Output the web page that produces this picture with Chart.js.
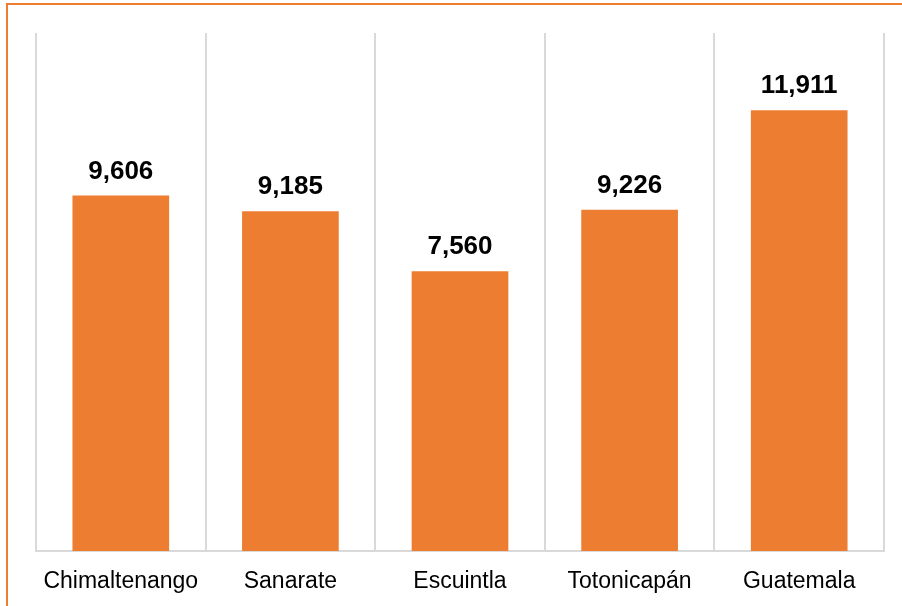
<!DOCTYPE html>
<html lang="es">
<head>
    <meta charset="UTF-8">
    <title>Bar chart</title>
    <script src="https://cdn.jsdelivr.net/npm/chart.js"></script>
    <style>
        html, body { margin: 0; padding: 0; background: #fff; }
        body { width: 902px; height: 606px; position: relative; overflow: hidden; }
        .frame {
            position: absolute; left: 6px; top: 3px; width: 1000px; height: 700px;
            border-left: 2px solid #ED7D31; border-top: 2px solid #ED7D31;
        }
        .wrap { position: absolute; left: 0; top: 0; width: 902px; height: 606px; }
    </style>
</head>
<body>
    <div class="frame"></div>
    <div class="wrap"><canvas id="chart"></canvas></div>

    <script>
        const categories = ['Chimaltenango', 'Sanarate', 'Escuintla', 'Totonicapán', 'Guatemala'];
        const values = [9606, 9185, 7560, 9226, 11911];
        const axisMax = 14000;

        // write the values over each bar
        const barLabels = {
            id: 'barLabels',
            afterDatasetsDraw(chart) {
                const ctx = chart.ctx;
                const meta = chart.getDatasetMeta(0);
                ctx.save();
                ctx.font = 'bold 26px "Liberation Sans", Arial, sans-serif';
                ctx.fillStyle = '#000';
                ctx.textAlign = 'center';
                ctx.textBaseline = 'alphabetic';
                meta.data.forEach((bar, i) => {
                    ctx.fillText(values[i].toLocaleString('en-US'), bar.x, bar.y - 17);
                });
                ctx.restore();
            }
        };

        new Chart(document.getElementById('chart'), {
            type: 'bar',
            data: {
                labels: categories,
                datasets: [{
                    data: values,
                    backgroundColor: '#ED7D31',
                    borderWidth: 0,
                    categoryPercentage: 0.57,
                    barPercentage: 1
                }]
            },
            options: {
                responsive: true,
                maintainAspectRatio: false,
                animation: false,
                layout: { padding: { left: 36, right: 18, top: 33, bottom: 0 } },
                plugins: { legend: { display: false }, tooltip: { enabled: false } },
                scales: {
                    x: {
                        afterFit(scale) { scale.height = 55; },
                        grid: { display: true, offset: true, color: '#d9d9d9', lineWidth: 2, drawTicks: false },
                        border: { display: true, color: '#d9d9d9', width: 2 },
                        ticks: {
                            color: '#000',
                            padding: 17,
                            maxRotation: 0,
                            font: { family: '"Liberation Sans", Arial, sans-serif', size: 23 }
                        }
                    },
                    y: {
                        display: false,
                        min: 0,
                        max: axisMax
                    }
                }
            },
            plugins: [barLabels]
        });
    </script>
</body>
</html>
